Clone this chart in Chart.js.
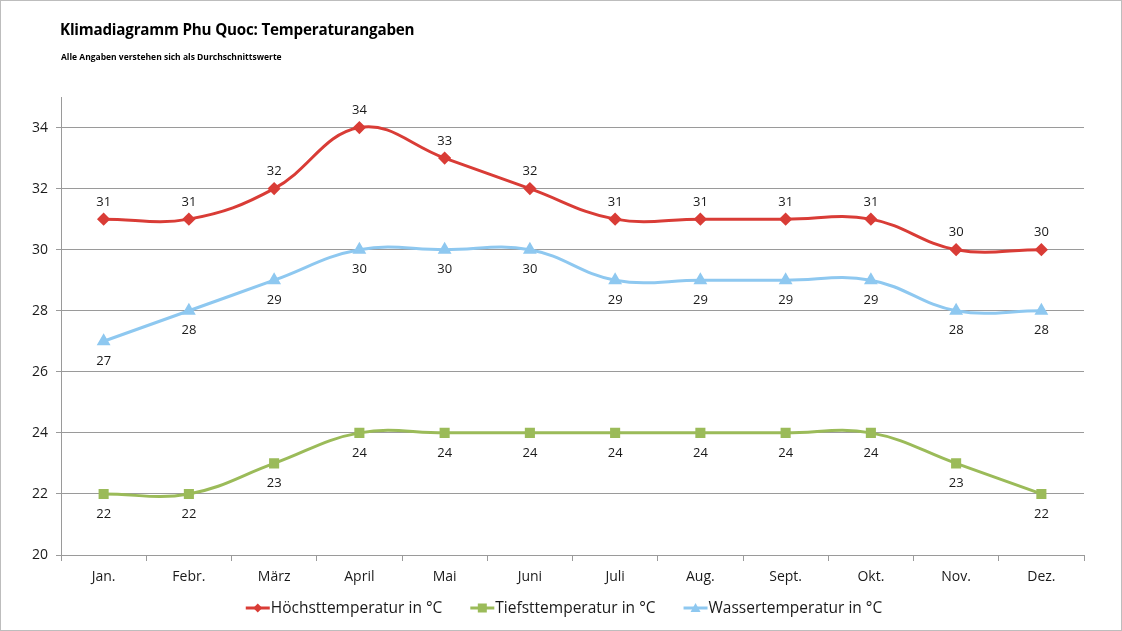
<!DOCTYPE html>
<html><head><meta charset="utf-8">
<script src="https://cdn.jsdelivr.net/npm/chart.js@4"></script>
<style>
html,body{margin:0;padding:0;background:#fff;}
#wrap{position:relative;width:1122px;height:631px;box-sizing:border-box;border:1px solid #bdbdbd;overflow:hidden;}
#title{position:absolute;left:59px;top:18px;font-family:"Open Sans",sans-serif;font-weight:700;font-size:15.2px;color:#000;letter-spacing:-0.2px;}
#sub{position:absolute;left:60px;top:50px;font-family:"Open Sans",sans-serif;font-weight:700;font-size:8.5px;color:#000;}
canvas{position:absolute;left:0;top:0;}
</style></head>
<body><div id="wrap">
<canvas id="c" width="1122" height="631"></canvas>
<div id="title">Klimadiagramm Phu Quoc: Temperaturangaben</div>
<div id="sub">Alle Angaben verstehen sich als Durchschnittswerte</div>
</div>
<script>
const months = ["Jan.","Febr.","März","April","Mai","Juni","Juli","Aug.","Sept.","Okt.","Nov.","Dez."];
const hoechst = [31,31,32,34,33,32,31,31,31,31,30,30];
const tiefst = [22,22,23,24,24,24,24,24,24,24,23,22];
const wasser = [27,28,29,30,30,30,29,29,29,29,28,28];
const seriesNames = ["Höchsttemperatur in °C","Tiefsttemperatur in °C","Wassertemperatur in °C"];
const yTicks = [20,22,24,26,28,30,32,34];

const RED="#d93c36", GREEN="#9bbb59", BLUE="#8ec8f0";
const FONT='"Open Sans", sans-serif';
const styles=['rectRot','rect','triangle'];
const colors=[RED,GREEN,BLUE];

function drawMarker(g,style,cx,cy,color){
  g.fillStyle=color; g.beginPath();
  if(style==='rectRot'){g.moveTo(cx,cy-4.5);g.lineTo(cx+4.5,cy);g.lineTo(cx,cy+4.5);g.lineTo(cx-4.5,cy);g.closePath();}
  else if(style==='rect'){g.rect(cx-4.5,cy-4.5,9,9);}
  else {g.moveTo(cx,cy-5);g.lineTo(cx+5,cy+4);g.lineTo(cx-5,cy+4);g.closePath();}
  g.fill();
}

const labelPlugin={
  id:'vals',
  afterDatasetsDraw(chart){
    const ctx=chart.ctx;
    ctx.save();
    ctx.font='13px '+FONT; ctx.fillStyle='#1a1a1a'; ctx.textAlign='center'; ctx.textBaseline='middle';
    chart.data.datasets.forEach((ds,i)=>{
      const meta=chart.getDatasetMeta(i);
      meta.data.forEach((pt,j)=>{
        const off = i===0 ? -17 : 20;
        ctx.fillText(String(ds.data[j]), pt.x, pt.y+off);
      });
    });
    ctx.restore();
  }
};

const legendPlugin={
  id:'customLegend',
  afterDraw(chart){
    const ctx=chart.ctx;
    ctx.save();
    ctx.font='15.5px '+FONT; ctx.textBaseline='middle'; ctx.textAlign='left';
    const iconW=24, gapText=1, gapItem=28, cy=607;
    const widths=chart.data.datasets.map(ds=>iconW+gapText+ctx.measureText(ds.label).width);
    const total=widths.reduce((a,b)=>a+b,0)+gapItem*(widths.length-1);
    let x=563-total/2;
    chart.data.datasets.forEach((ds,i)=>{
      ctx.strokeStyle=colors[i]; ctx.lineWidth=3;
      ctx.beginPath(); ctx.moveTo(x,cy); ctx.lineTo(x+iconW,cy); ctx.stroke();
      drawMarker(ctx,styles[i],x+iconW/2,cy,colors[i]);
      ctx.fillStyle='#1a1a1a';
      ctx.fillText(ds.label,x+iconW+gapText,cy+1);
      x+=widths[i]+gapItem;
    });
    ctx.restore();
  }
};

new Chart(document.getElementById('c'),{
  type:'line',
  data:{labels:months,datasets:[
    {label:seriesNames[0],data:hoechst,borderColor:RED,backgroundColor:RED,pointStyle:'rectRot',pointRadius:4.5,borderWidth:3,tension:0.4},
    {label:seriesNames[1],data:tiefst,borderColor:GREEN,backgroundColor:GREEN,pointStyle:'rect',pointRadius:5,borderWidth:3,tension:0.4},
    {label:seriesNames[2],data:wasser,borderColor:BLUE,backgroundColor:BLUE,pointStyle:'triangle',pointRadius:5,borderWidth:3,tension:0.4}
  ]},
  options:{
    responsive:false,animation:false,
    layout:{padding:{left:0,right:39,top:96,bottom:42}},
    plugins:{
      title:{display:false},
      tooltip:{enabled:false},
      legend:{display:false}
    },
    scales:{
      x:{offset:true,
        grid:{offset:true,drawOnChartArea:false,drawTicks:true,tickLength:6,color:'#9a9a9a'},
        border:{color:'#9a9a9a'},
        ticks:{color:'#1a1a1a',font:{family:FONT,size:14},padding:8},
        afterFit(s){s.height=35;}
      },
      y:{min:20,max:35,
        afterBuildTicks(s){s.ticks=yTicks.map(v=>({value:v}));},
        grid:{color:'#9a9a9a',tickLength:5,drawTicks:true},
        border:{color:'#9a9a9a'},
        ticks:{color:'#1a1a1a',font:{family:FONT,size:14},padding:8},
        afterFit(s){s.width=60;}
      }
    }
  },
  plugins:[labelPlugin,legendPlugin]
});
</script>
</body></html>
